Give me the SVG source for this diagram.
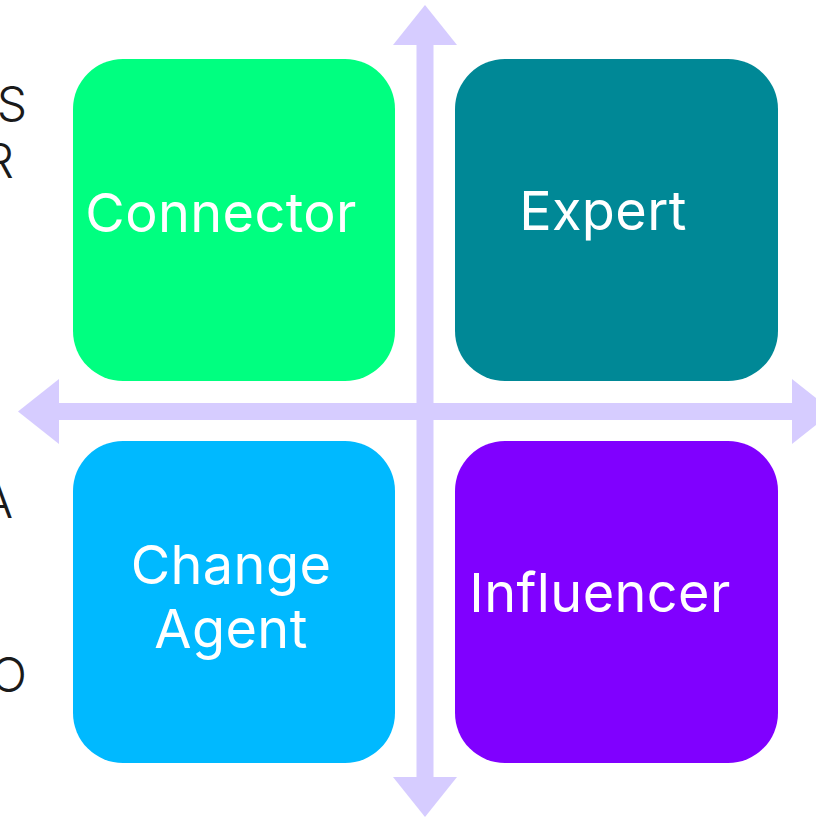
<svg xmlns="http://www.w3.org/2000/svg" width="816" height="817" viewBox="0 0 816 817">
  <style>
    .box { stroke: none; }
    .lbl { font-family: Inter, "Liberation Sans", sans-serif; font-size: 54px; font-weight: 400; letter-spacing: 0.4px; fill: #ffffff; text-anchor: middle; }
    .side { font-family: Inter, "Liberation Sans", sans-serif; font-size: 48px; font-weight: 300; fill: #1a1a1a; text-anchor: end; }
    .axis { fill: #d6ccff; }
  </style>
  <rect width="816" height="817" fill="#ffffff"/>

  <!-- axis labels clipped at the left edge -->
  <g id="side-labels">
    <text class="side" x="27" y="121">S</text>
    <text class="side" x="14" y="178">R</text>
    <text class="side" x="13" y="518">A</text>
    <text class="side" x="27" y="692">O</text>
  </g>

  <!-- crossing axes with arrowheads -->
  <g id="connectors">
    <rect class="axis" x="416.5" y="44" width="17" height="734"/>
    <polygon class="axis" points="425,5 393,45 457,45"/>
    <polygon class="axis" points="393,777 457,777 425,817"/>
    <rect class="axis" x="58" y="403" width="735" height="17"/>
    <polygon class="axis" points="18,411.5 59,379 59,444"/>
    <polygon class="axis" points="792,379 792,444 833,411.5"/>
  </g>

  <g id="connector">
    <rect class="box" x="73" y="59" width="322" height="322" rx="50" fill="#00ff80"/>
    <text class="lbl" x="221" y="232">Connector</text>
  </g>
  <g id="expert">
    <rect class="box" x="455" y="59" width="323" height="322" rx="50" fill="#008896"/>
    <text class="lbl" x="603" y="230">Expert</text>
  </g>
  <g id="change-agent">
    <rect class="box" x="73" y="441" width="322" height="322" rx="50" fill="#00b9ff"/>
    <text class="lbl" x="231" y="584">Change</text>
    <text class="lbl" x="231" y="648">Agent</text>
  </g>
  <g id="influencer">
    <rect class="box" x="455" y="441" width="323" height="322" rx="50" fill="#8000ff"/>
    <text class="lbl" x="600" y="612">Influencer</text>
  </g>
</svg>
